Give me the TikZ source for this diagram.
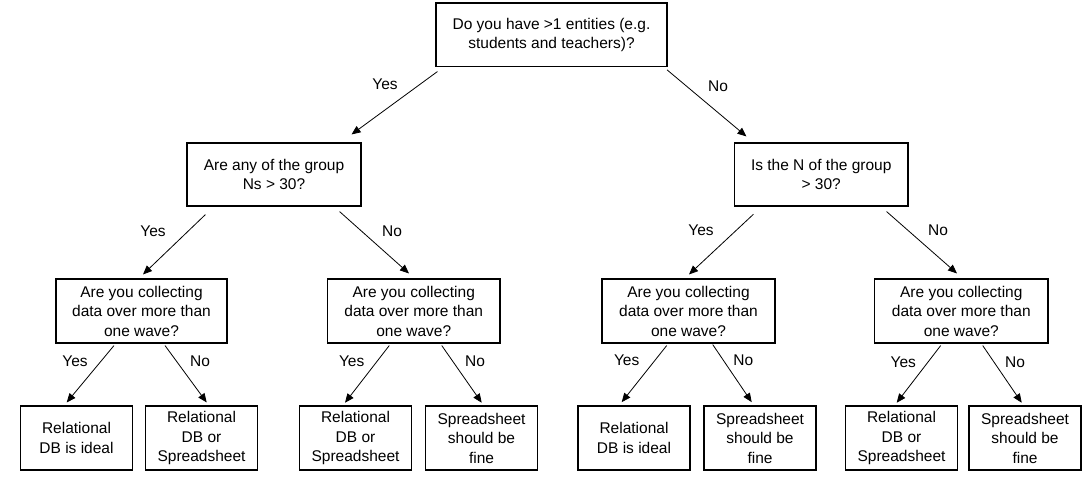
\documentclass[tikz,border=0pt]{standalone}
\usepackage{fontspec}
\setmainfont{Liberation Sans}
\usetikzlibrary{arrows.meta}
\tikzset{
  box/.style={draw=black, line width=1.1pt, inner sep=0pt, align=center, font=\fontsize{15.5}{19.5}\selectfont, minimum height=64pt},
  leaf/.style={box, minimum width=112pt},
  lbl/.style={inner sep=0pt, font=\fontsize{15.5}{19.5}\selectfont},
  arr/.style={line width=0.8pt, -{Triangle[length=9pt,width=7.5pt]}}
}
\begin{document}
\begin{tikzpicture}[x=1pt,y=-1pt]
\fill[white] (0,0) rectangle (1092,489);
\useasboundingbox (0,0) rectangle (1092,489);
% nodes
\node[box, minimum width=231pt, minimum height=63.5pt] (top) at (551.5,34.75) {Do you have >1 entities (e.g.\\students and teachers)?};
\node[box, minimum width=174pt, minimum height=63pt] (b2) at (274,174.5) {Are any of the group\\Ns > 30?};
\node[box, minimum width=173.5pt, minimum height=63pt] (b3) at (821.25,174.5) {Is the N of the group\\> 30?};
\node[box, minimum width=171pt] (bA) at (141.5,311) {Are you collecting\\data over more than\\one wave?};
\node[box, minimum width=172.5pt] (bB) at (413.75,311) {Are you collecting\\data over more than\\one wave?};
\node[box, minimum width=173pt] (bC) at (688.5,311) {Are you collecting\\data over more than\\one wave?};
\node[box, minimum width=173.4pt] (bD) at (961.3,311) {Are you collecting\\data over more than\\one wave?};
\node[leaf] (l1) at (76.5,438) {Relational\\DB is ideal};
\node[leaf] (l2) at (201.5,438) {Relational\\DB or\\Spreadsheet};
\node[leaf] (l3) at (355.5,438) {Relational\\DB or\\Spreadsheet};
\node[leaf] (l4) at (481.5,438) {Spreadsheet\\should be\\fine};
\node[leaf] (l5) at (634,438) {Relational\\DB is ideal};
\node[leaf] (l6) at (760,438) {Spreadsheet\\should be\\fine};
\node[leaf] (l7) at (901.5,438) {Relational\\DB or\\Spreadsheet};
\node[leaf] (l8) at (1025,438) {Spreadsheet\\should be\\fine};
% connectors
\draw[arr] ([shift={(2,4.5)}]top.south west) -- ([shift={(-10,-8)}]b2.north east);
\draw[arr] ([shift={(-0.5,2.8)}]top.south east) -- ([shift={(12.5,-6)}]b3.north west);
\draw[arr] ([shift={(19,8)}]b2.south west) -- ([shift={(1.5,-4)}]bA.north);
\draw[arr] ([shift={(-22,5)}]b2.south east) -- ([shift={(-4.75,-5)}]bB.north);
\draw[arr] ([shift={(19.5,7.7)}]b3.south west) -- ([shift={(0.5,-4)}]bC.north);
\draw[arr] ([shift={(-22,5)}]b3.south east) -- ([shift={(-4.3,-5)}]bD.north);
\draw[arr] ([shift={(-27.5,2)}]bA.south) -- ([shift={(-9.8,-3)}]l1.north);
\draw[arr] ([shift={(23.5,2)}]bA.south) -- ([shift={(5.2,-3)}]l2.north);
\draw[arr] ([shift={(-24.5,2)}]bB.south) -- ([shift={(-10.5,-2.7)}]l3.north);
\draw[arr] ([shift={(28,2)}]bB.south) -- ([shift={(0.2,-2.7)}]l4.north);
\draw[arr] ([shift={(-21.8,2)}]bC.south) -- ([shift={(-12.3,-3.3)}]l5.north);
\draw[arr] ([shift={(24.2,1)}]bC.south) -- ([shift={(-8.3,-3.3)}]l6.north);
\draw[arr] ([shift={(-20.6,2)}]bD.south) -- ([shift={(-4.8,-2.7)}]l7.north);
\draw[arr] ([shift={(21.4,2)}]bD.south) -- ([shift={(-3.3,-2.7)}]l8.north);
% labels
\node[lbl] (y0) at (385,84.3) {Yes};
\node[lbl] (n0) at (718,86) {No};
\node[lbl] (y1) at (153,231.7) {Yes};
\node[lbl] (n1) at (392,231.7) {No};
\node[lbl] (y2) at (701,230) {Yes};
\node[lbl] (n2) at (938,230) {No};
\node[lbl] (y3) at (75,361.7) {Yes};
\node[lbl] (n3) at (200,361.7) {No};
\node[lbl] (y4) at (351.7,361.7) {Yes};
\node[lbl] (n4) at (475,361.7) {No};
\node[lbl] (y5) at (626.7,360) {Yes};
\node[lbl] (n5) at (743.3,360) {No};
\node[lbl] (y6) at (903.3,362.7) {Yes};
\node[lbl] (n6) at (1015,362.7) {No};
\end{tikzpicture}
\end{document}
